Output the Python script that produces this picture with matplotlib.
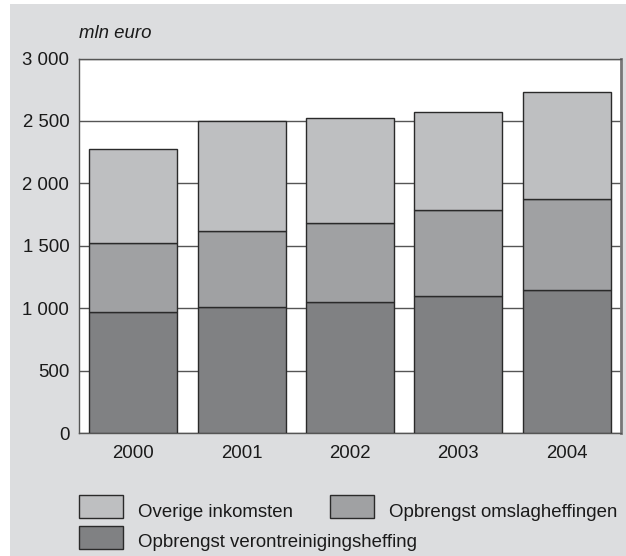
import matplotlib.pyplot as plt
from matplotlib.patches import Rectangle

plt.rcParams['font.family'] = ['Liberation Sans', 'DejaVu Sans']

years = ['2000', '2001', '2002', '2003', '2004']
verontreiniging = [970, 1007, 1047, 1100, 1143]
omslag = [550, 609, 636, 689, 732]
overige = [753, 882, 843, 781, 860]

labels = ['Overige inkomsten', 'Opbrengst omslagheffingen',
          'Opbrengst verontreinigingsheffing']
colors = ['#bebfc1', '#a0a1a3', '#808183']
yticks = [0, 500, 1000, 1500, 2000, 2500, 3000]
yticklabels = ['0', '500', '1 000', '1 500', '2 000', '2 500', '3 000']

fs = 13.4

fig = plt.figure(figsize=(6.26, 5.56), dpi=100)
fig.patch.set_facecolor('white')
fig.patches.append(Rectangle((10 / 626, 0), 1, 552 / 556, transform=fig.transFigure,
                             facecolor='#dcdddf', edgecolor='none', zorder=-10))

ax = fig.add_axes([79 / 626, 1 - 433 / 556, 542 / 626, 374.5 / 556])
ax.set_facecolor('white')

x = range(len(years))
bottom2 = [a + b for a, b in zip(verontreiniging, omslag)]
ax.bar(x, verontreiniging, width=0.81, color=colors[2], edgecolor='#2a2a2a', linewidth=1, zorder=3)
ax.bar(x, omslag, width=0.81, bottom=verontreiniging, color=colors[1], edgecolor='#2a2a2a', linewidth=1, zorder=3)
ax.bar(x, overige, width=0.81, bottom=bottom2, color=colors[0], edgecolor='#2a2a2a', linewidth=1, zorder=3)

ax.set_xlim(-0.5, 4.5)
ax.set_ylim(0, 3000)
ax.set_yticks(yticks)
ax.set_yticklabels(yticklabels)
ax.set_xticks(list(x))
ax.set_xticklabels(years)
ax.tick_params(length=0, labelsize=fs, colors='#1a1a1a')
ax.tick_params(axis='x', pad=9)
ax.tick_params(axis='y', pad=7)
ax.yaxis.grid(True, color='#555555', linewidth=1)
ax.set_axisbelow(True)
for s in ['left', 'bottom', 'top']:
    ax.spines[s].set_color('#555555')
    ax.spines[s].set_linewidth(1)
ax.spines['right'].set_color('#777777')
ax.spines['right'].set_linewidth(2)

fig.text(79 / 626, 1 - 33 / 556, 'mln euro', fontsize=fs, style='italic',
         va='center', ha='left', color='#1a1a1a')

# legend drawn by hand: (square left, square top, text baseline, series)
legend_pos = [(79, 495, 517, 0), (330, 495, 517, 1), (79, 526, 547, 2)]
for px, top, base, i in legend_pos:
    fig.patches.append(Rectangle((px / 626, 1 - (top + 22.5) / 556), 44 / 626, 22.5 / 556,
                                 transform=fig.transFigure, facecolor=colors[i],
                                 edgecolor='#2a2a2a', linewidth=1, zorder=2))
    fig.text((px + 59) / 626, 1 - base / 556, labels[i], fontsize=fs,
             va='baseline', ha='left', color='#1a1a1a')

fig.savefig('out.png', dpi=100)
